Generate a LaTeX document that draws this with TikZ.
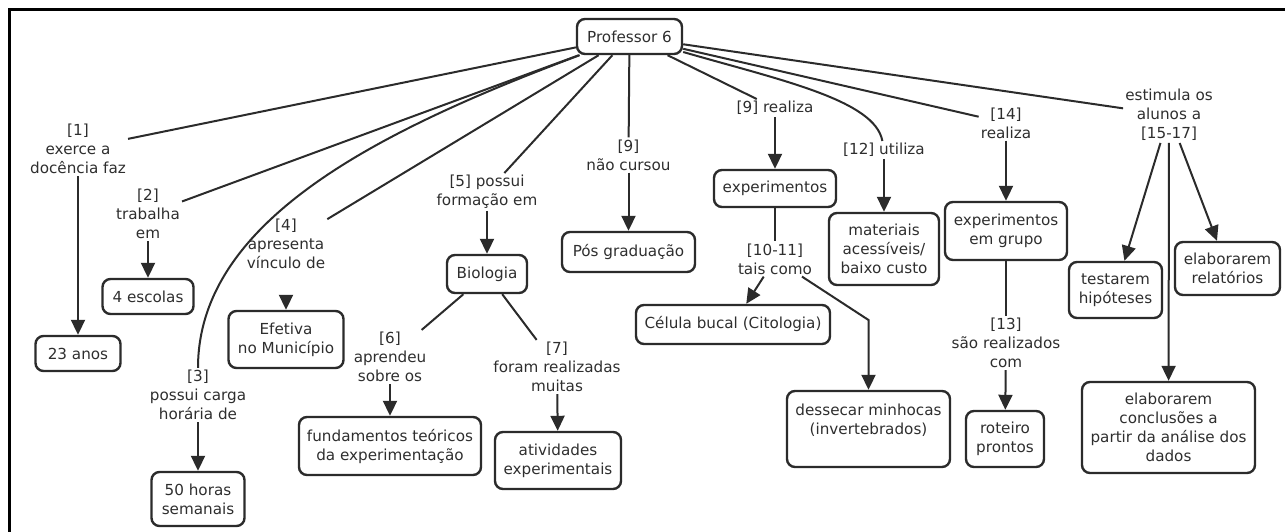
\documentclass[tikz,border=0pt]{standalone}
\usepackage{fontspec}
\setmainfont{DejaVu Sans}
\usetikzlibrary{arrows.meta}
\definecolor{ink}{HTML}{2B2B2B}
\definecolor{txt}{HTML}{2E2E2E}
\begin{document}
\begin{tikzpicture}[x=1pt,y=-1pt,
  every node/.style={font=\fontsize{15.2}{19}\selectfont, text=txt},
  box/.style={draw=ink, line width=2.4pt, rounded corners=8pt, align=center, inner sep=0pt},
  lbl/.style={align=center, inner sep=2pt},
  link/.style={draw=ink, line width=2pt},
  arr/.style={link, -{Triangle[length=15pt,width=14pt]}},
]
\useasboundingbox (0,0) rectangle (1285,532);
% frame
\draw[line width=3pt, black, line join=miter] (9,532) -- (9,10) -- (1285,10);

% concepts
\node[box, minimum width=105pt, minimum height=35pt] (prof) at (629.5,36.5) {Professor 6};
\node[box, minimum width=85pt, minimum height=35pt] (b23) at (78,353.5) {23 anos};
\node[box, minimum width=91pt, minimum height=35pt] (esc) at (148,296.5) {4 escolas};
\node[box, minimum width=93pt, minimum height=54pt] (h50) at (198,499) {50 horas\\semanais};
\node[box, minimum width=115pt, minimum height=57pt] (efet) at (286,339.5) {Efetiva\\no Município};
\node[box, minimum width=80pt, minimum height=38pt] (bio) at (487,274) {Biologia};
\node[box, minimum width=182pt, minimum height=58pt] (fund) at (390,446) {fundamentos teóricos\\da experimentação};
\node[box, minimum width=126pt, minimum height=57pt] (ativ) at (558,460.5) {atividades\\experimentais};
\node[box, minimum width=133pt, minimum height=40pt] (pos) at (628.5,252) {Pós graduação};
\node[box, minimum width=122pt, minimum height=37pt] (expt) at (775,188.5) {experimentos};
\node[box, minimum width=194pt, minimum height=39pt] (cel) at (733,324.5) {Célula bucal (Citologia)};
\node[box, minimum width=163pt, minimum height=76pt] (dess) at (868.5,429) {dessecar minhocas\\(invertebrados)\\\mbox{}};
\node[box, minimum width=110pt, minimum height=72pt] (mat) at (884,249) {materiais\\acessíveis/\\baixo custo};
\node[box, minimum width=122pt, minimum height=58pt] (grp) at (1006,231) {experimentos\\em grupo};
\node[box, minimum width=78pt, minimum height=56pt] (rot) at (1005,439) {roteiro\\prontos};
\node[box, minimum width=93pt, minimum height=56pt] (test) at (1115.5,290) {testarem\\hipóteses};
\node[box, minimum width=173pt, minimum height=91pt] (concl) at (1168.5,427.5) {elaborarem\\conclusões a\\partir da análise dos\\dados};
\node[box, minimum width=105pt, minimum height=53pt] (relat) at (1227.5,268.5) {elaborarem\\relatórios};

% linking phrases
\node[lbl] (l1) at (78,149) {[1]\\exerce a\\docência faz};
\node[lbl] (l2) at (148,214) {[2]\\trabalha\\em};
\node[lbl] (l3) at (198,395) {[3]\\possui carga\\horária de};
\node[lbl] (l4) at (286,244) {[4]\\apresenta\\vínculo de};
\node[lbl] (l5) at (487,192) {[5] possui\\formação em};
\node[lbl] (l6) at (390,357) {[6]\\aprendeu\\sobre os};
\node[lbl] (l7) at (557,367) {[7]\\foram realizadas\\muitas};
\node[lbl] (l9) at (628.5,155) {[9]\\não cursou};
\node[lbl] (l9b) at (775,108) {[9] realiza};
\node[lbl] (l10) at (775,259) {[10-11]\\tais como};
\node[lbl] (l12) at (884,150) {[12] utiliza};
\node[lbl] (l14) at (1006,123) {[14]\\realiza};
\node[lbl] (l13) at (1006,343) {[13]\\são realizados\\com};
\node[lbl] (l15) at (1169,115) {estimula os\\alunos a\\{[15-17]}};

% connections
\draw[link] (prof) -- (l1);
\draw[arr] (l1) -- (b23);
\draw[link] (prof) -- (l2);
\draw[arr] (l2) -- (esc);
\draw[link] (prof) .. controls (380,130) and (198,220) .. (l3);
\draw[arr] (l3) -- (h50);
\draw[link] (prof) -- (l4);
\draw[arr, shorten <=24pt] (l4) -- (efet);
\draw[link] (prof) -- (l5);
\draw[arr] (l5) -- (bio);
\draw[link] (bio) -- (l6);
\draw[arr] (l6) -- (fund);
\draw[link] (bio) -- (l7);
\draw[arr] (l7) -- (ativ);
\draw[link] (prof) -- (l9);
\draw[arr] (l9) -- (pos);
\draw[link] (prof) -- (l9b);
\draw[arr] (l9b) -- (expt);
\draw[link] (expt) -- (l10);
\draw[arr] (l10) -- (cel);
\coordinate (kink) at (868.5,320);
\draw[arr] (l10) -- (kink) -- (dess);
\draw[link] (prof) .. controls (780,80) and (875,100) .. (l12);
\draw[arr] (l12) -- (mat);
\draw[link] (prof) -- (l14);
\draw[arr] (l14) -- (grp);
\draw[link] (grp) -- (l13);
\draw[arr] (l13) -- (rot);
\draw[link] (prof) -- (l15);
\draw[arr] (l15) -- (test);
\draw[arr] (l15) -- (concl);
\draw[arr] (l15) -- (relat);
\end{tikzpicture}
\end{document}
